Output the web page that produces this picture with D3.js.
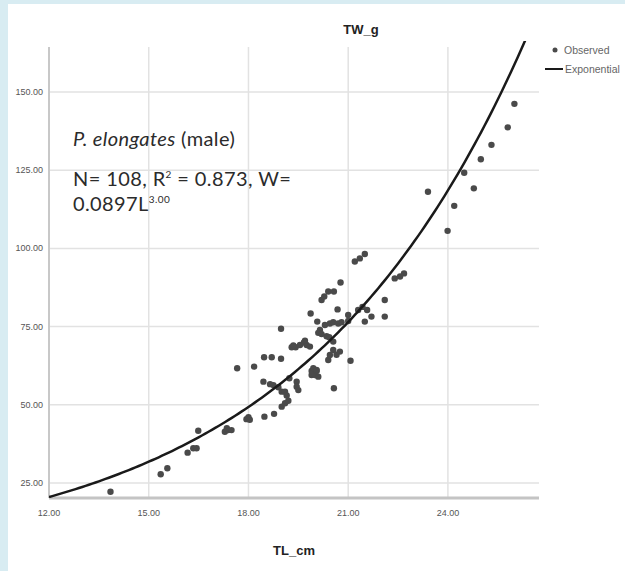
<!DOCTYPE html>
<html lang="en">
<head>
    <meta charset="UTF-8">
    <title>TW_g vs TL_cm</title>
    <script src="https://d3js.org/d3.v7.min.js"></script>
    <style>
        body {
            margin: 0;
            background: #d8ecf2;
        }
        .tick-label {
            font-family: "Liberation Sans Narrow", "Liberation Sans", Arial, sans-serif;
            font-size: 9px;
            fill: #555;
        }
        .axis-title {
            font-family: "Liberation Sans Narrow", "Liberation Sans", Arial, sans-serif;
            font-size: 13px;
            font-weight: bold;
            fill: #222;
        }
        .legend-text {
            font-family: "Liberation Sans Narrow", "Liberation Sans", Arial, sans-serif;
            font-size: 10.5px;
            fill: #666;
        }
        .note {
            font-family: Lato, "Open Sans", sans-serif;
            font-size: 20px;
            letter-spacing: 0.4px;
            fill: #2b2b2b;
        }
    </style>
</head>
<body>
    <svg id="chart"></svg>

    <script>
        // Observed points (TL in cm, TW in g)
        const tl = [13.85, 15.36, 15.56, 16.17, 16.34, 16.44, 16.49, 17.29, 17.39, 17.49,
                    17.35, 17.94, 18.04, 18.00, 18.48, 18.77, 19.00, 19.10, 19.20, 18.45,
                    18.65, 18.75, 18.90, 19.00, 19.10, 19.15, 19.23, 19.45, 19.45, 19.50,
                    17.66, 18.17, 18.47, 18.70, 18.98, 18.98, 19.30, 19.42, 19.55, 19.67,
                    19.75, 19.85, 19.90, 20.00, 20.10, 19.90, 20.05, 19.95, 20.05, 19.87,
                    20.07, 20.15, 20.10, 20.20, 20.35, 20.43, 20.55, 20.20, 20.28, 20.40,
                    20.57, 20.77, 20.68, 20.30, 20.45, 20.55, 20.70, 20.80, 20.40, 20.45,
                    20.55, 20.75, 20.65, 20.57, 21.07, 21.00, 21.00, 21.20, 21.35, 21.50,
                    21.30, 21.43, 21.57, 21.50, 21.70, 22.10, 22.10, 22.40, 22.56, 22.68,
                    23.40, 24.19, 23.99, 24.49, 24.78, 24.99, 25.31, 25.80, 26.00, 19.70,
                    19.35];
        const tw = [22.2, 27.8, 29.7, 34.7, 36.1, 36.1, 41.7, 41.4, 41.9, 41.9,
                    42.5, 45.4, 45.2, 46.0, 46.2, 47.1, 49.4, 50.5, 51.3, 57.4,
                    56.6, 56.3, 55.6, 54.2, 54.2, 53.0, 58.5, 57.4, 55.8, 54.7,
                    61.7, 62.2, 65.2, 65.2, 64.7, 74.3, 68.4, 68.4, 69.1, 69.9,
                    69.1, 68.6, 59.5, 59.5, 59.0, 60.8, 60.8, 61.7, 61.1, 79.2,
                    76.6, 73.9, 73.0, 72.6, 71.9, 71.6, 70.2, 83.5, 84.6, 86.2,
                    86.2, 89.1, 80.5, 75.5, 76.0, 76.4, 76.0, 76.4, 64.3, 65.9,
                    67.5, 67.0, 66.0, 55.3, 64.1, 78.7, 76.8, 95.8, 96.8, 98.2,
                    80.3, 81.3, 80.3, 76.6, 78.2, 83.5, 78.2, 90.4, 91.0, 92.0,
                    118.1, 113.6, 105.6, 124.2, 119.2, 128.5, 133.1, 138.7, 146.2, 70.5,
                    69.0];

        // Exponential fit W = a * e^(b * L), as drawn in the picture
        const fitA = 3.548;
        const fitB = 0.1462;

        const xTicks = [12, 15, 18, 21, 24];
        const yTicks = [25, 50, 75, 100, 125, 150];

        const width = 625;
        const height = 571;

        const svg = d3.select("#chart")
            .attr("width", width)
            .attr("height", height)
            .style("display", "block");

        // white panel over the blue page
        svg.append("rect")
            .attr("x", 8).attr("y", 4)
            .attr("width", width - 8).attr("height", height - 4)
            .attr("fill", "#fff");

        const plotLeft = 49, plotRight = 539, plotTop = 41, plotBottom = 498;

        const x = d3.scaleLinear().domain([12, 26.74]).range([plotLeft, plotRight]);
        const y = d3.scaleLinear().domain([20.2, 166.3]).range([plotBottom, plotTop]);

        // gridlines
        svg.append("g")
            .selectAll("line")
            .data(yTicks)
            .enter().append("line")
            .attr("x1", plotLeft).attr("x2", plotRight)
            .attr("y1", d => y(d)).attr("y2", d => y(d))
            .attr("stroke", "#e2e2e2")
            .attr("stroke-width", 1.5);

        svg.append("g")
            .selectAll("line")
            .data(xTicks.slice(1))
            .enter().append("line")
            .attr("x1", d => x(d)).attr("x2", d => x(d))
            .attr("y1", plotTop + 6).attr("y2", plotBottom)
            .attr("stroke", "#e2e2e2")
            .attr("stroke-width", 1.5);

        // axes lines
        svg.append("line")
            .attr("x1", plotLeft).attr("x2", plotLeft)
            .attr("y1", plotTop + 6).attr("y2", plotBottom)
            .attr("stroke", "#c8c8c8").attr("stroke-width", 2);
        svg.append("line")
            .attr("x1", plotLeft).attr("x2", plotRight)
            .attr("y1", plotBottom).attr("y2", plotBottom)
            .attr("stroke", "#c4c4c4").attr("stroke-width", 3);

        // tick labels
        const fmt = d3.format(".2f");
        svg.append("g")
            .selectAll("text")
            .data(yTicks)
            .enter().append("text")
            .attr("class", "tick-label")
            .attr("x", plotLeft - 6)
            .attr("y", d => y(d) + 3)
            .attr("text-anchor", "end")
            .text(fmt);

        svg.append("g")
            .selectAll("text")
            .data(xTicks)
            .enter().append("text")
            .attr("class", "tick-label")
            .attr("x", d => x(d))
            .attr("y", plotBottom + 18)
            .attr("text-anchor", "middle")
            .text(fmt);

        // titles
        svg.append("text")
            .attr("class", "axis-title")
            .attr("x", 361).attr("y", 34)
            .attr("text-anchor", "middle")
            .text("TW_g");
        svg.append("text")
            .attr("class", "axis-title")
            .attr("x", 294).attr("y", 555)
            .attr("text-anchor", "middle")
            .text("TL_cm");

        // clip for the fit curve
        svg.append("clipPath").attr("id", "plot-clip")
            .append("rect")
            .attr("x", plotLeft).attr("y", plotTop)
            .attr("width", plotRight - plotLeft).attr("height", plotBottom - plotTop);

        // points
        const points = tl.map((d, i) => ({tl: d, tw: tw[i]}));
        svg.append("g")
            .selectAll("circle")
            .data(points)
            .enter().append("circle")
            .attr("cx", d => x(d.tl))
            .attr("cy", d => y(d.tw))
            .attr("r", 3.2)
            .attr("fill", "#4a4a4a");

        // fitted exponential curve across the x range
        const curveX = d3.range(12, 26.75, 0.1);
        const line = d3.line()
            .x(d => x(d))
            .y(d => y(fitA * Math.exp(fitB * d)));
        svg.append("path")
            .datum(curveX)
            .attr("clip-path", "url(#plot-clip)")
            .attr("d", line)
            .attr("fill", "none")
            .attr("stroke", "#1a1a1a")
            .attr("stroke-width", 2.5);

        // legend
        svg.append("circle")
            .attr("cx", 555).attr("cy", 50).attr("r", 2.5)
            .attr("fill", "#4a4a4a");
        svg.append("text")
            .attr("class", "legend-text")
            .attr("x", 564).attr("y", 54)
            .text("Observed");
        svg.append("line")
            .attr("x1", 545).attr("x2", 563)
            .attr("y1", 69).attr("y2", 69)
            .attr("stroke", "#1a1a1a").attr("stroke-width", 2);
        svg.append("text")
            .attr("class", "legend-text")
            .attr("x", 565).attr("y", 73)
            .text("Exponential");

        // annotation
        const note = svg.append("g").attr("class", "note");
        const l1 = note.append("text").attr("x", 73).attr("y", 146);
        l1.append("tspan").attr("font-style", "italic").text("P. elongates");
        l1.append("tspan").text(" (male)");

        const l2 = note.append("text").attr("x", 73).attr("y", 186);
        l2.append("tspan").text("N= 108, R");
        l2.append("tspan").attr("font-size", "10px").attr("dy", -8).text("2");
        l2.append("tspan").attr("dy", 8).text(" = 0.873, W=");

        const l3 = note.append("text").attr("x", 73).attr("y", 211);
        l3.append("tspan").text("0.0897L");
        l3.append("tspan").attr("font-size", "10px").attr("dy", -8).text("3.00");
    </script>
</body>
</html>
